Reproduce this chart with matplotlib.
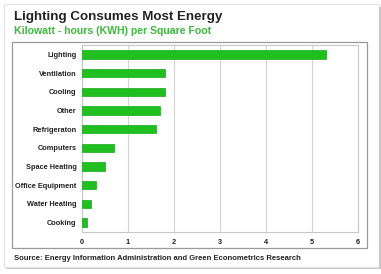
import matplotlib
matplotlib.use("Agg")
import matplotlib.pyplot as plt
from matplotlib.patches import Rectangle

categories = ["Lighting", "Ventilation", "Cooling", "Other", "Refrigeraton",
              "Computers", "Space Heating", "Office Equipment", "Water Heating", "Cooking"]
values = [5.3, 1.8, 1.8, 1.7, 1.6, 0.7, 0.5, 0.3, 0.2, 0.1]
xticks = [0, 1, 2, 3, 4, 5, 6]

W, H = 381, 274
fig = plt.figure(figsize=(W / 100, H / 100), dpi=100)
fig.patch.set_facecolor("white")
plt.rcParams["font.family"] = ["Liberation Sans", "DejaVu Sans"]

def fx(px):
    return px / W

def fy(py):
    return 1 - py / H

# outer slide edge / shadow
fig.patches.append(Rectangle((fx(4), fy(267)), fx(375), 263 / H, transform=fig.transFigure,
                             facecolor="none", edgecolor="#e4e4e4", lw=0.8))
fig.patches.append(Rectangle((fx(6), fy(269)), fx(375), 1.5 / H, transform=fig.transFigure,
                             facecolor="#c8c8c8", edgecolor="none"))
fig.patches.append(Rectangle((fx(379), fy(269)), 1.5 / W, 262 / H, transform=fig.transFigure,
                             facecolor="#c8c8c8", edgecolor="none"))
# inner chart box
fig.patches.append(Rectangle((fx(12), fy(248)), fx(355), 206 / H, transform=fig.transFigure,
                             facecolor="none", edgecolor="#9a9a9a", lw=0.9))

ax = fig.add_axes([fx(82), fy(232), fx(358) - fx(82), (232 - 45) / H])
y = list(range(len(categories)))
ax.barh(y, values, height=0.45, color="#1fbf1f", edgecolor="#18a818", linewidth=0.5, zorder=3)
ax.set_ylim(len(categories) - 0.5, -0.5)
ax.set_xlim(0, 6)
ax.set_xticks(xticks)
ax.set_xticklabels([str(t) for t in xticks])
ax.set_yticks(y)
ax.set_yticklabels(categories)
ax.grid(axis="x", color="#d4d4d4", lw=0.8, zorder=0)
for s in ax.spines.values():
    s.set_color("#c8c8c8")
    s.set_linewidth(0.8)
ax.tick_params(axis="both", length=0, labelsize=5.3, pad=4, colors="#222222")
for lab in ax.get_xticklabels() + ax.get_yticklabels():
    lab.set_fontweight("bold")
ax.tick_params(axis="x", pad=5)

fig.text(fx(14), fy(17), "Lighting Consumes Most Energy", fontsize=9.6, fontweight="bold",
         color="#222222", va="center", ha="left")
fig.text(fx(14), fy(31), "Kilowatt - hours (KWH) per Square Foot", fontsize=7.6,
         fontweight="bold", color="#3cb83c", va="center", ha="left")
fig.text(fx(14), fy(258), "Source: Energy Information Administration and Green Econometrics Research",
         fontsize=5.5, fontweight="bold", color="#222222", va="center", ha="left")

fig.savefig("out.png", dpi=100)
